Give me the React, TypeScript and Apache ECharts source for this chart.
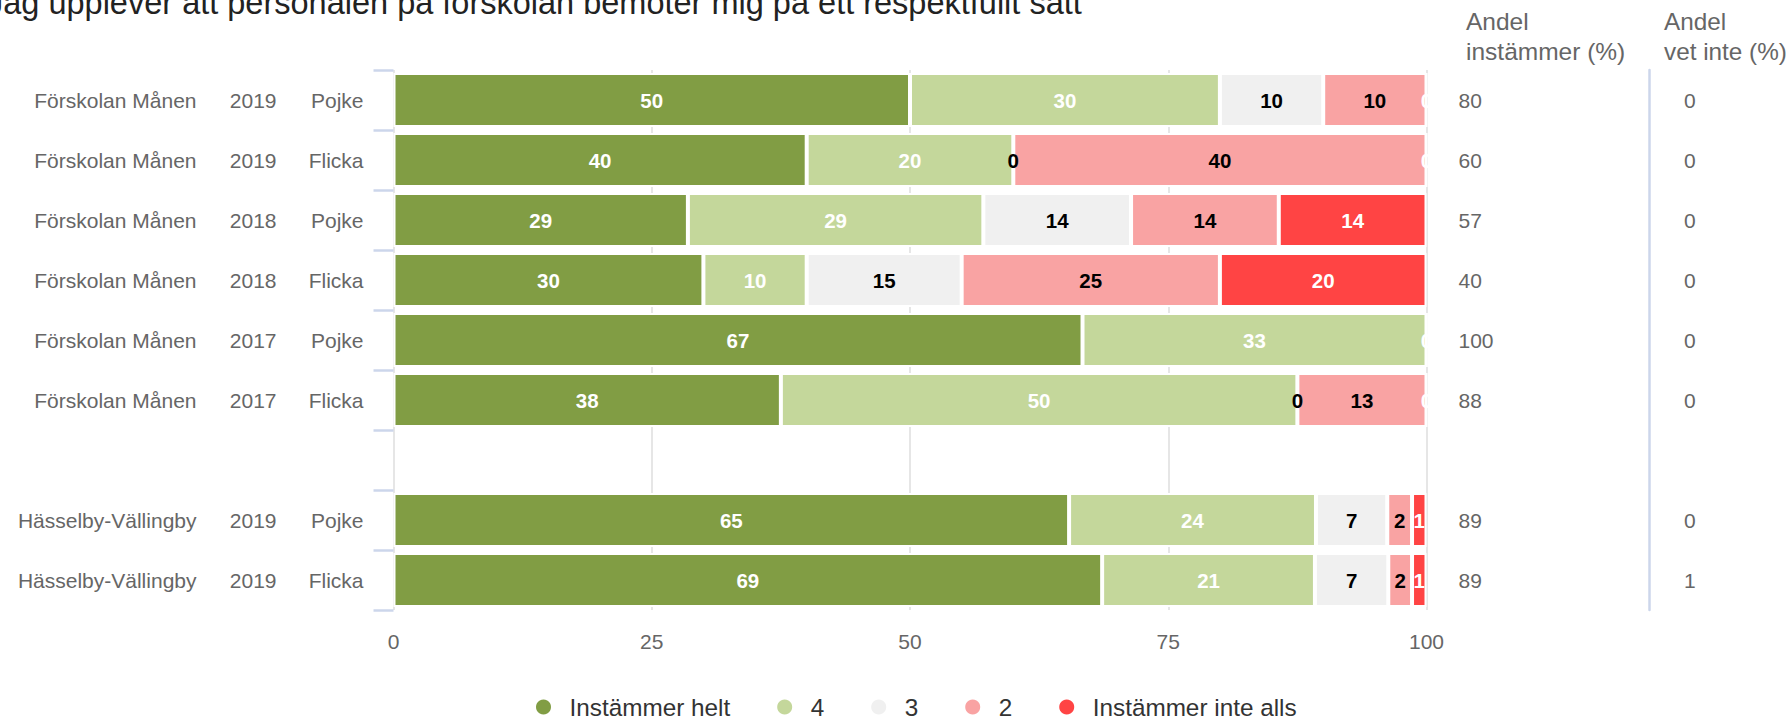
import React, { useEffect, useRef } from "react";
import * as echarts from "echarts";

const units = [
  "Förskolan Månen", "Förskolan Månen", "Förskolan Månen", "Förskolan Månen",
  "Förskolan Månen", "Förskolan Månen", "", "Hässelby-Vällingby", "Hässelby-Vällingby",
];
const years = ["2019", "2019", "2018", "2018", "2017", "2017", "", "2019", "2019"];
const genders = ["Pojke", "Flicka", "Pojke", "Flicka", "Pojke", "Flicka", "", "Pojke", "Flicka"];

const seriesNames = ["Instämmer helt", "4", "3", "2", "Instämmer inte alls"];
const seriesColors = ["#819d44", "#c4d79b", "#f0f0f0", "#f9a3a3", "#ff4444"];
const labelColors = ["#ffffff", "#ffffff", "#000000", "#000000", "#ffffff"];

const helt = [50, 40, 28.5, 30, 66.7, 37.5, null, 65.4, 68.6];
const fyra = [30, 20, 28.6, 10, 33.3, 50, null, 23.9, 20.6];
const tre = [10, 0, 14.3, 15, 0, 0, null, 6.9, 7.1];
const tva = [10, 40, 14.3, 25, 0, 12.5, null, 2.4, 2.3];
const inteAlls = [0, 0, 14.3, 20, 0, 0, null, 1.4, 1.4];

const andelInstammer = [80, 60, 57, 40, 100, 88, null, 89, 89];
const andelVetInte = [0, 0, 0, 0, 0, 0, null, 0, 1];

const xTicks = [0, 25, 50, 75, 100];

const titleText = "Jag upplever att personalen på förskolan bemöter mig på ett respektfullt sätt";
const header1 = "Andel\ninstämmer (%)";
const header2 = "Andel\nvet inte (%)";

const FONT = '"Liberation Sans", Arial, Helvetica, sans-serif';

export default function App() {
  const ref = useRef<HTMLDivElement>(null);

  useEffect(() => {
    if (!ref.current) return;
    const chart = echarts.init(ref.current, undefined, { renderer: "svg" });
    const allSeries = [helt, fyra, tre, tva, inteAlls];
    const categories = units.map((u, i) => `${u} ${years[i]} ${genders[i]} ${i}`);

    const option: any = {
      animation: false,
      textStyle: { fontFamily: FONT },
      grid: { left: 393.5, right: 362.5, top: 70, bottom: 110, containLabel: false },
      graphic: [
        {
          type: "text",
          x: -13,
          y: 3.2,
          style: {
            text: titleText,
            font: `32.5px ${FONT}`,
            fill: "#222",
            verticalAlign: "middle",
            align: "left",
          },
        },
        {
          type: "text",
          x: 1466,
          y: 36.6,
          style: {
            text: header1,
            font: `24.5px ${FONT}`,
            lineHeight: 29.3,
            fill: "#666",
            verticalAlign: "middle",
            align: "left",
          },
        },
        {
          type: "text",
          x: 1664,
          y: 36.6,
          style: {
            text: header2,
            font: `24.3px ${FONT}`,
            lineHeight: 29.3,
            fill: "#666",
            verticalAlign: "middle",
            align: "left",
          },
        },
      ],
      legend: {
        data: seriesNames,
        left: 534,
        top: 695,
        icon: "circle",
        itemWidth: 42,
        itemHeight: 17,
        itemGap: 45,
        padding: 0,
        textStyle: { fontSize: 24.3, color: "#333", fontFamily: FONT },
      },
      xAxis: {
        type: "value",
        min: 0,
        max: 100,
        interval: 25,
        axisLine: { show: false },
        axisTick: { show: false },
        splitLine: { show: true, lineStyle: { color: "#e6e6e6", width: 2 } },
        axisLabel: {
          margin: 21,
          fontSize: 21,
          color: "#666",
          fontFamily: FONT,
          formatter: (v: number) => (xTicks.includes(v) ? String(v) : ""),
        },
      },
      yAxis: [
        {
          type: "category",
          data: categories,
          inverse: true,
          axisLine: { show: false },
          axisTick: { show: true, length: 20, lineStyle: { color: "#ccd6eb", width: 2.5 } },
          axisLabel: {
            interval: 0,
            margin: 30,
            formatter: (_v: string, i: number) =>
              units[i] ? `{n|${units[i]}}{y|${years[i]}}{g|${genders[i]}}` : "",
            rich: {
              n: { width: 165, align: "right", fontSize: 21, color: "#666", fontFamily: FONT },
              y: { width: 80, align: "right", fontSize: 21, color: "#666", fontFamily: FONT },
              g: { width: 87, align: "right", fontSize: 21, color: "#666", fontFamily: FONT },
            },
          },
        },
        {
          type: "category",
          data: categories,
          inverse: true,
          position: "right",
          axisLine: { show: false },
          axisTick: { show: false },
          splitLine: { show: false },
          axisLabel: {
            interval: 0,
            margin: 32,
            fontSize: 21,
            color: "#666",
            fontFamily: FONT,
            formatter: (_v: string, i: number) =>
              andelInstammer[i] == null ? "" : String(andelInstammer[i]),
          },
        },
        {
          type: "category",
          data: categories,
          inverse: true,
          position: "right",
          offset: 223,
          axisLine: { show: true, lineStyle: { color: "#ccd6eb", width: 2.5 } },
          axisTick: { show: false },
          splitLine: { show: false },
          axisLabel: {
            interval: 0,
            margin: 34.5,
            fontSize: 21,
            color: "#666",
            fontFamily: FONT,
            formatter: (_v: string, i: number) =>
              andelVetInte[i] == null ? "" : String(andelVetInte[i]),
          },
        },
      ],
      series: allSeries.map((d, s) => ({
        name: seriesNames[s],
        type: "bar",
        stack: "total",
        xAxisIndex: 0,
        yAxisIndex: 0,
        barWidth: 54,
        data: d,
        itemStyle: { color: seriesColors[s], borderColor: "#ffffff", borderWidth: 2 },
        label: {
          show: true,
          position: "inside",
          fontSize: 20.5,
          fontWeight: "bold",
          fontFamily: FONT,
          color: labelColors[s],
          formatter: (p: any) => {
            const v = p.value;
            if (v == null) return "";
            if (v === 0 && s < allSeries.length - 1 && allSeries[s + 1][p.dataIndex] === 0) return "";
            return String(Math.round(v));
          },
        },
      })),
    };
    chart.setOption(option);
    return () => chart.dispose();
  }, []);

  return (
    <div
      ref={ref}
      style={{ position: "absolute", left: 0, top: 0, width: 1789, height: 720 }}
    />
  );
}
